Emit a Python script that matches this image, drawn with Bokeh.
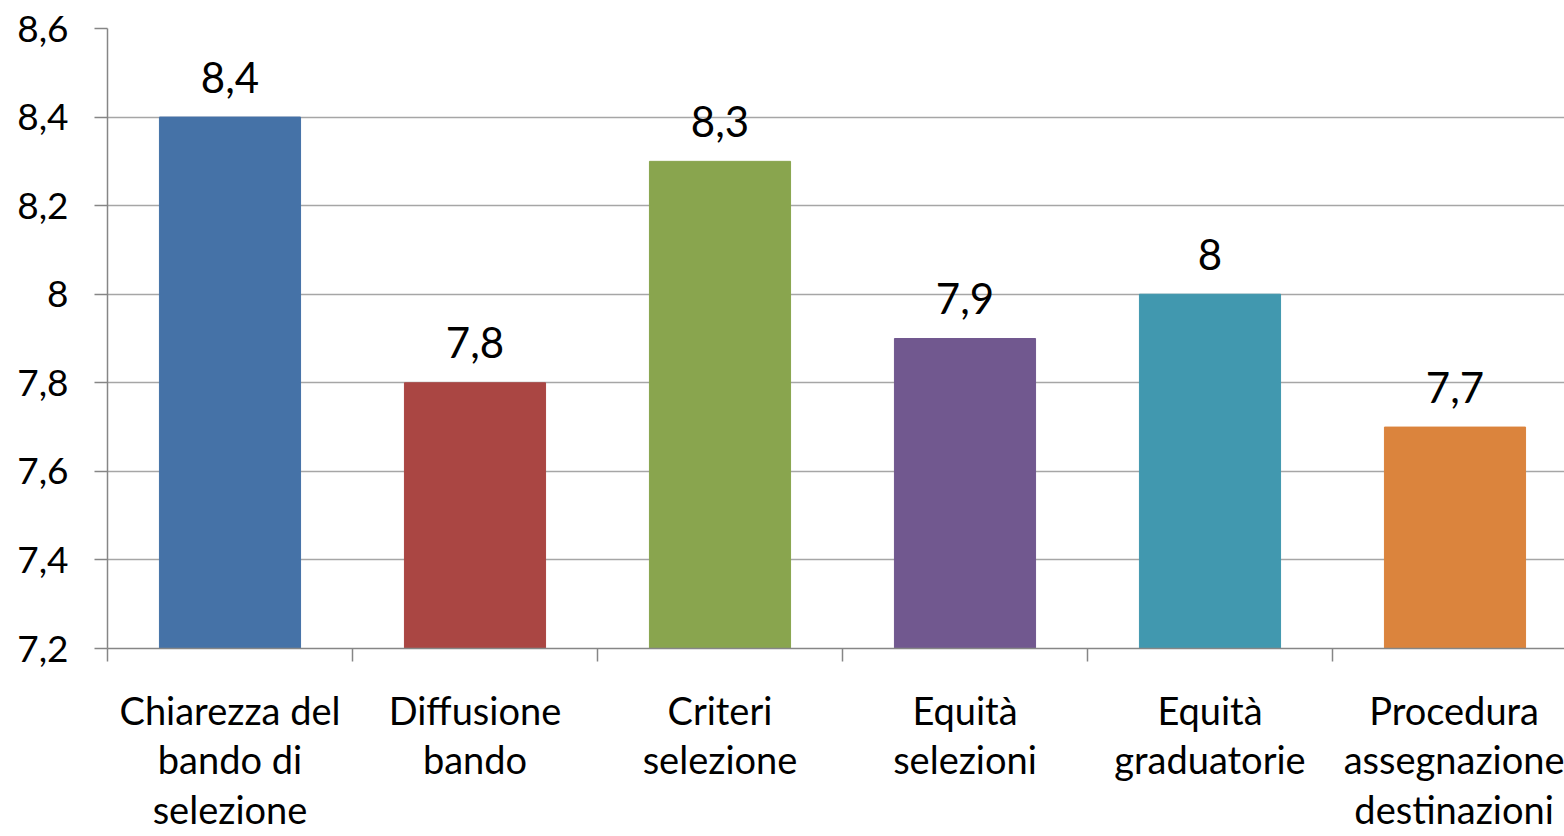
from bokeh.plotting import figure
from bokeh.models import Range1d, FixedTicker, CustomJSTickFormatter, ColumnDataSource
from bokeh.core.properties import value
from bokeh.embed import file_html
from bokeh.resources import INLINE

categories = ["Chiarezza del\nbando di\nselezione", "Diffusione\nbando", "Criteri\nselezione",
              "Equità\nselezioni", "Equità\ngraduatorie", "Procedura\nassegnazione\ndestinazioni"]
values = [8.4, 7.8, 8.3, 7.9, 8.0, 7.7]
colors = ["#4572A7", "#AA4643", "#89A54E", "#71588F", "#4198AF", "#DB843D"]
y_ticks = [7.2, 7.4, 7.6, 7.8, 8.0, 8.2, 8.4, 8.6]

FONT = "Lato"

n = len(categories)
centers = [i + 0.5 for i in range(n)]
labels = [("%g" % v).replace(".", ",") for v in values]

src = ColumnDataSource(dict(x=centers, top=values, color=colors, label=labels))

p = figure(width=1564, height=836, output_backend="svg", toolbar_location=None,
           x_range=Range1d(0, 1457 / 245.0), y_range=Range1d(7.2, 8.6),
           min_border_left=107, min_border_right=0, min_border_top=28, min_border_bottom=188)
p.outline_line_color = None
p.background_fill_color = "white"

p.vbar(x="x", top="top", bottom=7.2, width=0.576, color="color", source=src)
p.text(x="x", y="top", text="label", source=src, text_align="center", text_baseline="middle",
       y_offset=-40, text_font=value(FONT), text_font_size="42px", text_color="black")

# y axis
p.yaxis.ticker = FixedTicker(ticks=y_ticks)
p.yaxis.formatter = CustomJSTickFormatter(code="return (Math.round(tick*10)/10).toString().replace('.', ',');")
p.yaxis.major_label_text_font = FONT
p.yaxis.major_label_text_font_size = "37px"
p.yaxis.major_label_text_color = "black"
p.yaxis.major_tick_out = 13
p.yaxis.major_tick_in = 0
p.yaxis.minor_tick_out = 0
p.yaxis.minor_tick_in = 0
p.yaxis.axis_line_color = "#868686"
p.yaxis.axis_line_width = 1.5
p.yaxis.major_tick_line_color = "#868686"
p.yaxis.major_tick_line_width = 1.5
p.yaxis.major_label_standoff = 26

# x axis
p.xaxis.ticker = FixedTicker(ticks=centers, minor_ticks=list(range(n + 1)))
p.xaxis.major_label_overrides = {c: lab for c, lab in zip(centers, categories)}
p.xaxis.major_tick_out = 0
p.xaxis.major_tick_in = 0
p.xaxis.minor_tick_out = 13
p.xaxis.minor_tick_in = 0
p.xaxis.minor_tick_line_color = "#868686"
p.xaxis.minor_tick_line_width = 1.5
p.xaxis.axis_line_color = "#868686"
p.xaxis.axis_line_width = 1.5
p.xaxis.major_label_text_font = FONT
p.xaxis.major_label_text_font_size = "38px"
p.xaxis.major_label_text_color = "black"
p.xaxis.major_label_text_line_height = 1.08
p.xaxis.major_label_standoff = 25

p.xgrid.visible = False
p.ygrid.ticker = FixedTicker(ticks=y_ticks)
p.ygrid.grid_line_color = "#a6a6a6"
p.ygrid.grid_line_width = 1.5

open("out.html", "w").write(file_html(p, INLINE))
